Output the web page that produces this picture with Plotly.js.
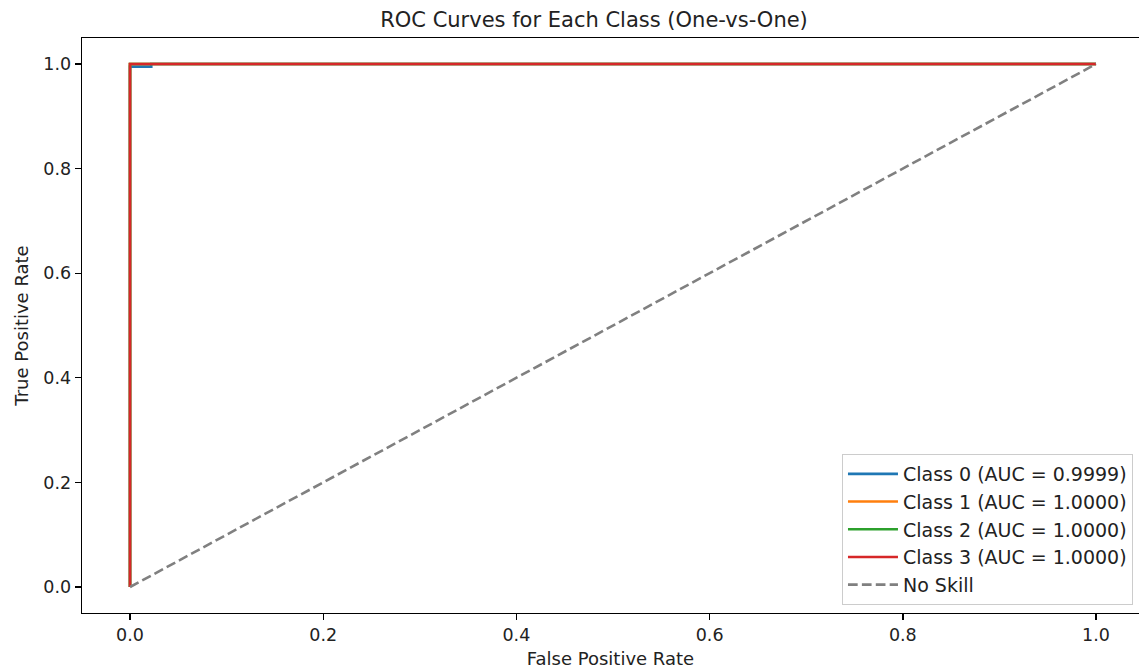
<!DOCTYPE html>
<html>
<head>
<meta charset="utf-8">
<script src="https://cdn.plot.ly/plotly-3.0.1.min.js"></script>
<style>html,body{margin:0;padding:0;background:#fff;}#chart{width:1139px;height:672px;}</style>
</head>
<body>
<div id="chart"></div>
<script>
// ROC curve points
const class0Fpr = [0, 0, 0.022, 0.022, 1];
const class0Tpr = [0, 0.995, 0.995, 1, 1];
const class1Fpr = [0, 0, 1];
const class1Tpr = [0, 1, 1];
const class2Fpr = [0, 0, 1];
const class2Tpr = [0, 1, 1];
const class3Fpr = [0, 0, 1];
const class3Tpr = [0, 1, 1];
const noSkillX = [0, 1];
const noSkillY = [0, 1];
const seriesNames = ["Class 0 (AUC = 0.9999)", "Class 1 (AUC = 1.0000)", "Class 2 (AUC = 1.0000)", "Class 3 (AUC = 1.0000)", "No Skill"];
const tickVals = [0, 0.2, 0.4, 0.6, 0.8, 1.0];
const tickText = ["0.0", "0.2", "0.4", "0.6", "0.8", "1.0"];

const colors = ["#1f77b4", "#ff7f0e", "#2ca02c", "#d62728"];
const xs = [class0Fpr, class1Fpr, class2Fpr, class3Fpr];
const ys = [class0Tpr, class1Tpr, class2Tpr, class3Tpr];
const LW = 2.6;
const traces = xs.map((x, i) => ({
  x: x, y: ys[i], type: "scatter", mode: "lines", name: seriesNames[i],
  line: {color: colors[i], width: LW}
}));
traces.push({
  x: noSkillX, y: noSkillY, type: "scatter", mode: "lines", name: seriesNames[4],
  line: {color: "#808080", width: LW, dash: "9.7px,4.2px"}
});

const font = "DejaVu Sans, sans-serif";
const txt = "#222222";
const layout = {
  width: 1139, height: 672,
  margin: {l: 82, r: 0, t: 38, b: 59, pad: 0},
  paper_bgcolor: "#ffffff", plot_bgcolor: "#ffffff",
  font: {family: font, color: txt, size: 17.5},
  title: {text: "ROC Curves for Each Class (One-vs-One)", font: {family: font, size: 21, color: txt},
          x: 594/1139, xanchor: "center", y: 1 - 20/672, yanchor: "middle", xref: "container", yref: "container"},
  showlegend: true,
  legend: {x: 0.9943, y: 0.0139, xanchor: "right", yanchor: "bottom", itemwidth: 50,
           bgcolor: "rgba(255,255,255,0.8)", bordercolor: "#cccccc", borderwidth: 1,
           font: {family: font, size: 19, color: txt}},
  xaxis: {range: [-0.0497, 1.0445], tickmode: "array", tickvals: tickVals, ticktext: tickText,
          ticks: "outside", ticklen: 6, tickwidth: 1.4, tickcolor: "#000",
          showline: true, linecolor: "#000", linewidth: 1.4, mirror: true,
          showgrid: false, zeroline: false, tickfont: {family: font, size: 17.5, color: txt},
          title: {text: "False Positive Rate", font: {family: font, size: 18, color: txt}, standoff: 8}},
  yaxis: {range: [-0.0497, 1.0497], tickmode: "array", tickvals: tickVals, ticktext: tickText,
          ticks: "outside", ticklen: 6, tickwidth: 1.4, tickcolor: "#000",
          showline: true, linecolor: "#000", linewidth: 1.4, mirror: false,
          showgrid: false, zeroline: false, tickfont: {family: font, size: 17.5, color: txt},
          title: {text: "True Positive Rate", font: {family: font, size: 18, color: txt}, standoff: 10}}
};
Plotly.newPlot("chart", traces, layout, {displayModeBar: false, staticPlot: true});
</script>
</body>
</html>
